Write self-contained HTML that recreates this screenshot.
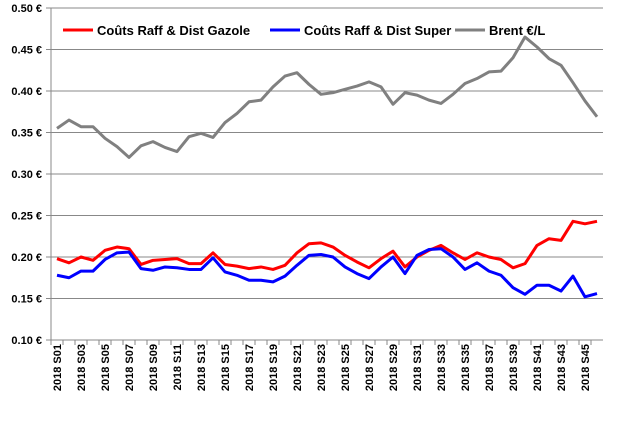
<!DOCTYPE html>
<html><head><meta charset="utf-8"><style>
body{margin:0;background:#fff}
text{font-family:"Liberation Sans",sans-serif;font-weight:bold;fill:#000}
</style></head><body>
<svg id="c" width="634" height="418" xmlns="http://www.w3.org/2000/svg"></svg>
<script>
const weeks=[];for(let i=1;i<=46;i++)weeks.push('2018 S'+String(i).padStart(2,'0'));
const yTicks=[0.10,0.15,0.20,0.25,0.30,0.35,0.40,0.45,0.50];
const gazole=[0.198,0.193,0.200,0.196,0.208,0.212,0.210,0.191,0.196,0.197,0.198,0.192,0.192,0.205,0.191,0.189,0.186,0.188,0.185,0.190,0.205,0.216,0.217,0.212,0.202,0.194,0.187,0.198,0.207,0.188,0.200,0.208,0.214,0.205,0.197,0.205,0.200,0.197,0.187,0.192,0.214,0.222,0.220,0.243,0.240,0.243];
const superC=[0.178,0.175,0.183,0.183,0.197,0.205,0.206,0.186,0.184,0.188,0.187,0.185,0.185,0.199,0.182,0.178,0.172,0.172,0.170,0.177,0.190,0.202,0.203,0.200,0.188,0.180,0.174,0.188,0.200,0.180,0.202,0.209,0.210,0.200,0.185,0.193,0.183,0.178,0.163,0.155,0.166,0.166,0.159,0.177,0.152,0.156];
const brent=[0.355,0.365,0.357,0.357,0.343,0.333,0.320,0.334,0.339,0.332,0.327,0.345,0.349,0.344,0.362,0.373,0.387,0.389,0.405,0.418,0.422,0.408,0.396,0.398,0.402,0.406,0.411,0.405,0.384,0.398,0.395,0.389,0.385,0.396,0.409,0.415,0.423,0.424,0.440,0.465,0.453,0.439,0.431,0.410,0.388,0.369];
const svg=document.getElementById('c');const NS='http://www.w3.org/2000/svg';
const x0=51,x1=603,yTop=8,yBot=340;
const xs=i=>x0+(i+0.5)*(x1-x0)/weeks.length;
const ys=v=>yBot-(v-0.10)/(0.40)*(yBot-yTop);
function mk(t,a,p){const e=document.createElementNS(NS,t);for(const k in a)e.setAttribute(k,a[k]);(p||svg).appendChild(e);return e;}
yTicks.forEach(v=>{
 const l=mk('line',{x1:x0-5,x2:x1,y1:ys(v),y2:ys(v),stroke:'#888','stroke-width':1});
 
 
 const t=mk('text',{x:42,y:ys(v)+4,'text-anchor':'end','font-size':11});t.textContent=v.toFixed(2)+' €';
 
 
});
const ax=mk('line',{x1:x0,x2:x0,y1:yTop,y2:yBot,stroke:'#888'});


weeks.forEach((w,i)=>{
 const tk=mk('line',{x1:x0+i*(x1-x0)/weeks.length,x2:x0+i*(x1-x0)/weeks.length,y1:yBot,y2:yBot+5,stroke:'#888'});
 
 
 if(i%2===0){const t=mk('text',{x:0,y:0,'text-anchor':'end','font-size':11,transform:`translate(${xs(i)+4},${yBot+4}) rotate(-90)`});t.textContent=w;
 
 }
});
function series(d,c,n){const p=mk('polyline',{points:d.map((v,i)=>xs(i)+','+ys(v)).join(' '),fill:'none',stroke:c,'stroke-width':3,'stroke-linejoin':'round'});
 
 }
series(brent,'#808080','series-brent');
series(gazole,'#ff0000','series-gazole');
series(superC,'#0000ff','series-super');
[[63,'#ff0000','Coûts Raff & Dist Gazole','legend-gazole'],[270,'#0000ff','Coûts Raff & Dist Super','legend-super'],[455,'#808080','Brent €/L','legend-brent']].forEach(([lx,c,s,n])=>{
 const g=mk('g',{});
 
 
 mk('line',{x1:lx,x2:lx+30,y1:30,y2:30,stroke:c,'stroke-width':3},g);
 const t=mk('text',{x:lx+34,y:35,'font-size':13},g);t.textContent=s;
});
</script>
</body></html>
